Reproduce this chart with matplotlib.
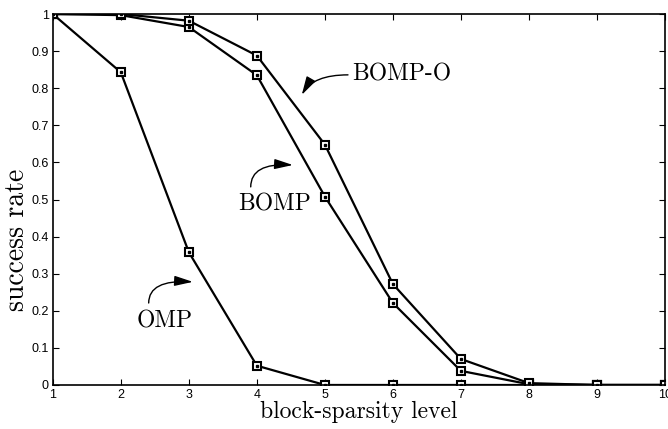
import numpy as np
import matplotlib
matplotlib.use('Agg')
import matplotlib.pyplot as plt

# block-sparsity level vs. success rate for the three recovery algorithms
levels = [1, 2, 3, 4, 5, 6, 7, 8, 9, 10]
omp = [1.0, 0.843, 0.358, 0.052, 0.0, 0.0, 0.0, 0.0, 0.0, 0.0]
bomp = [1.0, 0.997, 0.965, 0.835, 0.508, 0.221, 0.038, 0.002, 0.0, 0.0]
bomp_o = [1.0, 1.0, 0.982, 0.888, 0.648, 0.272, 0.070, 0.005, 0.0, 0.0]

yticks = [0, 0.1, 0.2, 0.3, 0.4, 0.5, 0.6, 0.7, 0.8, 0.9, 1]
yticklabels = ['0', '0.1', '0.2', '0.3', '0.4', '0.5', '0.6', '0.7', '0.8', '0.9', '1']

fig = plt.figure(figsize=(6.68, 4.29), dpi=100)
ax = fig.add_axes([0.079, 0.1026, 0.9165, 0.8647])

for series in (omp, bomp, bomp_o):
    ax.plot(levels, series, color='k', lw=1.6, marker='s', ms=6,
            mfc='white', mec='k', mew=1.5)
    ax.plot(levels, series, ls='none', marker='s', ms=1.5, color='k')

ax.set_xlim(1, 10)
ax.set_ylim(0, 1)
ax.set_xticks(levels)
ax.set_yticks(yticks)
ax.set_yticklabels(yticklabels)
ax.tick_params(direction='in', length=4, width=0.8, top=True, right=True,
               labelsize=9, pad=3)
for lab in ax.get_xticklabels() + ax.get_yticklabels():
    lab.set_family('Liberation Sans')
for sp in ax.spines.values():
    sp.set_linewidth(1.2)

ax.set_xlabel('block-sparsity level', family='cmr10', fontsize=17, labelpad=0)
ax.set_ylabel('success rate', family='cmr10', fontsize=20, va='center')
ax.yaxis.set_label_coords(-0.058, 0.39)

arrow = dict(arrowstyle='-|>,head_length=0.8,head_width=0.22', color='k',
             lw=1.0, shrinkA=0, shrinkB=0, mutation_scale=14)

ax.text(5.40, 0.836, 'BOMP-O', family='cmr10', fontsize=17, va='center')
ax.annotate('', xy=(4.66, 0.782), xytext=(5.34, 0.836),
            arrowprops=dict(arrow, connectionstyle='angle3,angleA=0,angleB=60'))

ax.text(3.72, 0.488, 'BOMP', family='cmr10', fontsize=17, va='center')
ax.annotate('', xy=(4.53, 0.593), xytext=(3.91, 0.534),
            arrowprops=dict(arrow, connectionstyle='angle3,angleA=90,angleB=-3'))

ax.text(2.24, 0.172, 'OMP', family='cmr10', fontsize=17, va='center')
ax.annotate('', xy=(3.06, 0.278), xytext=(2.41, 0.221),
            arrowprops=dict(arrow, connectionstyle='angle3,angleA=90,angleB=-3'))

fig.savefig('out.png', dpi=100)
